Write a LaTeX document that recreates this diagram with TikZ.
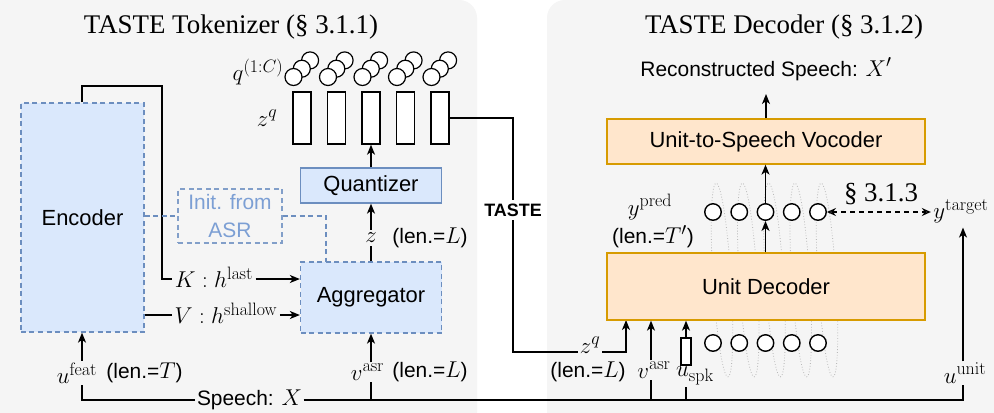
\RequirePackage{fix-cm}
\documentclass[tikz,border=0pt]{standalone}
\usepackage[no-math]{fontspec}
\setmainfont{Liberation Serif}
\setsansfont{Liberation Sans}
\usetikzlibrary{arrows.meta,calc}
\DeclareMathSizes{23}{23}{18}{14}
\definecolor{panel}{HTML}{F5F5F5}
\definecolor{bfill}{HTML}{DAE8FC}
\definecolor{bdraw}{HTML}{6C8EBF}
\definecolor{ofill}{HTML}{FFE6CC}
\definecolor{odraw}{HTML}{D79B00}
\definecolor{itext}{HTML}{7C9FD4}
\newcommand\mathlg[1]{{\fontsize{23}{28}\selectfont$#1$}}
\begin{document}
\begin{tikzpicture}[x=1bp,y=-1bp,
  line width=1.3bp,
  >={Stealth[length=10bp,width=8bp,inset=2.8bp]},
  sf/.style={font=\sffamily\fontsize{21}{25}\selectfont, inner sep=1bp},
  mth/.style={font=\fontsize{23}{28}\selectfont, inner sep=1bp},
  ttl/.style={font=\fontsize{27}{32}\selectfont, inner sep=0pt, anchor=base},
  bluebox/.style={draw=bdraw, fill=bfill, line width=1.3bp, font=\sffamily\fontsize{22}{26}\selectfont, inner sep=0pt},
  bluedash/.style={bluebox, dash pattern=on 5bp off 3.5bp},
  dashln/.style={draw=bdraw, dash pattern=on 5bp off 3.5bp},
  orangebox/.style={draw=odraw, fill=ofill, line width=1.3bp, font=\sffamily\fontsize{22}{26}\selectfont, inner sep=0pt},
  bar/.style={draw, fill=white, minimum width=18bp, minimum height=52bp, inner sep=0pt, line width=1.4bp},
  unitc/.style={circle, draw, fill=white, minimum size=16.5bp, inner sep=0pt, line width=1.4bp},
  qc/.style={circle, draw, fill=white, minimum size=17bp, inner sep=0pt, line width=1.2bp},
  looped/.style={draw=gray!55, dotted, line width=0.8bp},
  openarr/.style={{Stealth[open,length=9bp,width=8bp,inset=3bp]}-{Stealth[open,length=9bp,width=8bp,inset=3bp]}},
]
\useasboundingbox (0,0) rectangle (994,412);
\fill[white] (0,0) rectangle (994,412);
\begin{scope}
\clip (0,0) rectangle (994,412);
\fill[panel, rounded corners=18bp] (-30,0) rectangle (477,450);
\fill[panel, rounded corners=18bp] (547,0) rectangle (1024,450);
\end{scope}

% titles
\node[ttl] (t1) at (231,33) {TASTE Tokenizer (§ 3.1.1)};
\node[ttl] (t2) at (784,33) {TASTE Decoder (§ 3.1.2)};

% ---------- tokenizer ----------
\node[bluedash, minimum width=123bp, minimum height=229bp] (enc) at (82.5,217.5) {Encoder};
\node[draw=bdraw!85, dash pattern=on 5bp off 3.5bp, minimum width=104bp, minimum height=54bp,
      align=center, text=itext, font=\sffamily\fontsize{21}{28}\selectfont, inner sep=0pt] (init) at (230,216) {Init. from\\ASR};
\node[bluedash, minimum width=141bp, minimum height=71bp] (agg) at (371,297.5) {Aggregator};
\node[bluebox, minimum width=141bp, minimum height=35bp] (quant) at (371,185.5) {Quantizer};

\foreach \i/\x in {1/302,2/336.5,3/371,4/405.5,5/440}{
  \node[bar] (b\i) at (\x,118) {};
  \foreach \k in {2,1,0}{
    \node[qc] (q\i\k) at (\x-8.5+8.3*\k, 77-8.3*\k) {};
  }
}
\node[mth] (ql) at (258,72) {$q^{(1:C)}$};
\node[mth] (zql) at (267,118) {$z^q$};

% encoder -> aggregator (K, V)
\coordinate (etop) at (82,86);
\coordinate (kc) at (162,279);
\node[mth, inner sep=2bp] (kl) at (214,277) {$K:h^{\mathrm{last}}$};
\draw (enc.north -| etop) -- (etop) -| (kc) -- (kl.west |- kc);
\draw[->] (kl.east |- kc) -- (agg.west |- kc);
\coordinate (vc) at (150,315);
\node[mth, inner sep=2bp] (vl) at (226,313) {$V:h^{\mathrm{shallow}}$};
\draw (enc.east |- vc) -- (vl.west |- vc);
\draw[->] (vl.east |- vc) -- (agg.west |- vc);

% init from ASR dashed
\draw[dashln] (enc.east |- init.west) -- (init.west);
\coordinate (ai) at (326,262);
\draw[dashln] (init.east) -| (ai);

% aggregator -> quantizer
\node[mth, inner sep=2.5bp] (zl) at (371,238) {$z$};
\node[sf] (zlen) at (430,238) {(len.=\mathlg{L})};
\draw (agg.north) -- (zl.south);
\draw[->] (zl.north) -- (quant.south);
\draw[->] (quant.north) -- (b3.south);

% TASTE link
\node[font=\sffamily\bfseries\fontsize{18}{22}\selectfont, inner sep=3bp] (taste) at (513,210) {TASTE};
\draw (b5.east) -| (taste.north);
\coordinate (tb) at (513,352);
\coordinate (zqin) at (626,320);
\node[mth, inner sep=1.5bp] (zq2) at (590,345) {$z^q$};
\draw (taste.south) -- (tb) -- (zq2.west |- tb);
\draw[->] (zq2.east |- tb) -| (zqin);

% ---------- decoder ----------
\foreach \x in {713,739.25,765.5,791.75,818}{
  \draw[looped, rotate around={3.5:(\x+9,280)}] (\x+9,280) ellipse [x radius=9, y radius=97];
}
\node[orangebox, minimum width=318bp, minimum height=67bp] (dec) at (766,286.5) {Unit Decoder};
\node[orangebox, minimum width=318bp, minimum height=45bp] (voc) at (766,141.5) {Unit-to-Speech Vocoder};
\foreach \i/\x in {1/713,2/739.25,3/765.5,4/791.75,5/818}{
  \node[unitc] (u\i) at (\x,212) {};
  \node[unitc] (d\i) at (\x,343) {};
}
\node[sf, anchor=base] (recon) at (766,76) {Reconstructed Speech: \mathlg{X'}};
\draw[->, shorten >=12bp] (voc.north) -- (recon.south);
\draw[->] (dec.north -| u3) -- (u3.south);
\draw[->] (u3.north) -- (voc.south -| u3);

\node[mth] (yp) at (650,207) {$y^{\mathrm{pred}}$};
\node[sf] (tl) at (653,237) {(len.=\mathlg{T'})};
\node[ttl] (sec) at (881,201) {§ 3.1.3};
\node[mth] (yt) at (961,211) {$y^{\mathrm{target}}$};
\draw[openarr, dash pattern=on 5bp off 4bp, shorten >=1bp] (u5.east) -- (yt.west |- u5);

% bottom inputs
\node[mth] (uf) at (77,373) {$u^{\mathrm{feat}}$};
\node[sf] (ufl) at (144.5,373) {(len.=\mathlg{T})};
\node[mth] (va1) at (367.5,372) {$v^{\mathrm{asr}}$};
\node[sf] (va1l) at (430,372) {(len.=\mathlg{L})};
\node[sf] (sp) at (249.5,400) {Speech: \mathlg{X}};
\node[sf] (zlen2) at (588,372) {(len.=\mathlg{L})};
\node[mth] (va2) at (654,370) {$v^{\mathrm{asr}}$};
\node[mth] (us) at (695,376) {$u_{\mathrm{spk}}$};
\node[draw, fill=white, minimum width=10bp, minimum height=27bp, inner sep=0pt, line width=1.3bp] (spk) at (686,351.5) {};
\node[mth] (uu) at (965,373) {$u^{\mathrm{unit}}$};

\coordinate (bf) at (82,400);
\coordinate (ba) at (371,400);
\coordinate (bd) at (651,400);
\coordinate (bs) at (686,400);
\coordinate (bu) at (963,400);
\draw (uf.south -| bf) -- (bf) -- (sp.west);
\draw (sp.east) -- (bu) -- (uu.south -| bu);
\draw (ba) -- (va1.south -| ba);
\draw (bd) -- (va2.south -| bd);
\draw (bs) -- (us.south -| bs);
\draw[->] (uf.north -| bf) -- (enc.south -| bf);
\draw[->] (va1.north -| ba) -- (agg.south -| ba);
\draw[->] (va2.north -| bd) -- (dec.south -| bd);
\draw[->] (spk.north) -- (dec.south -| spk.north);
\draw[->, shorten >=3bp] (uu.north -| bu) -- (yt.south -| bu);
\end{tikzpicture}
\end{document}
